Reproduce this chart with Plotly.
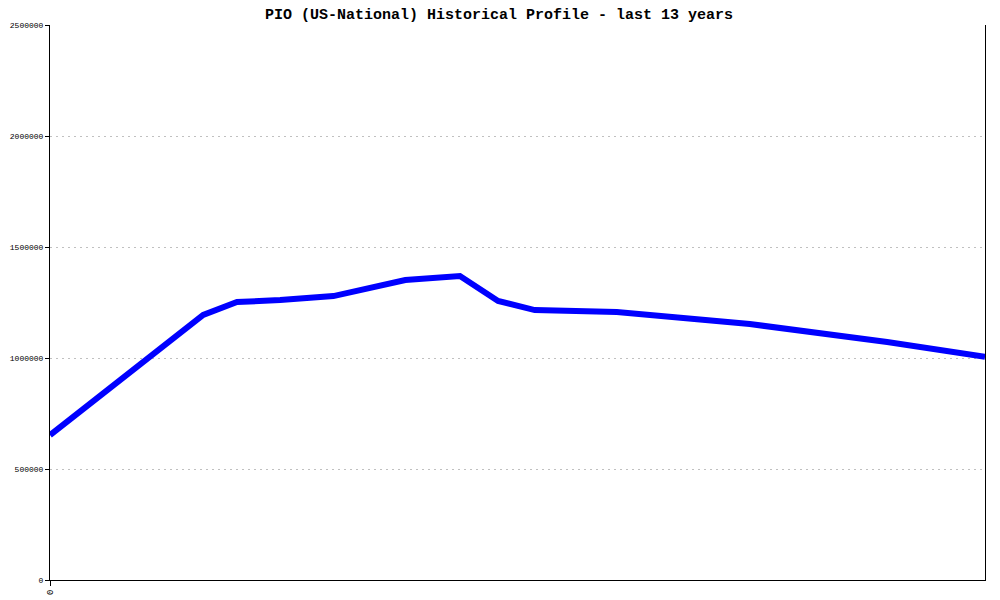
import plotly.graph_objects as go

# Time position in years from the start of the 13-year window
years = [0.0, 2.13, 2.6, 3.2, 3.94, 4.94, 5.7, 6.23, 6.74, 7.54, 7.88, 9.73, 11.64, 13.0]
# Population values
population = [653000, 1194000, 1252000, 1261000, 1279000, 1351000, 1369000,
              1257000, 1216000, 1212000, 1207000, 1153000, 1072000, 1005000]

y_ticks = [0, 500000, 1000000, 1500000, 2000000, 2500000]
y_labels = [str(v) for v in y_ticks]

fig = go.Figure(go.Scatter(
    x=years,
    y=population,
    mode="lines",
    line=dict(color="#0000ff", width=6),
    hoverinfo="skip",
))

# page body adds an 8px offset, so margins are shifted to compensate
fig.update_layout(
    width=1000,
    height=600,
    paper_bgcolor="white",
    plot_bgcolor="white",
    showlegend=False,
    margin=dict(l=42, r=23, t=17, b=28),
    title=dict(
        text="<b>PIO (US-National) Historical Profile - last 13 years</b>",
        x=0.491, xanchor="center",
        y=1.0, yanchor="top",
        font=dict(family="Liberation Mono, Courier New, monospace", size=15, color="black"),
    ),
    font=dict(family="Liberation Mono, Courier New, monospace", size=8, color="black"),
)

fig.update_xaxes(
    range=[0, 13],
    tickvals=[0],
    ticktext=["0"],
    tickangle=-90,
    ticks="outside",
    ticklen=5,
    tickcolor="black",
    showgrid=False,
    zeroline=False,
    showline=True,
    linecolor="black",
    linewidth=1,
    automargin=False,
    tickfont=dict(size=9),
)

fig.update_yaxes(
    range=[0, 2500000],
    tickvals=y_ticks,
    ticktext=y_labels,
    ticks="outside",
    ticklen=4,
    tickcolor="black",
    showgrid=True,
    gridcolor="#c0c0c0",
    griddash="2px,4px",
    gridwidth=1,
    zeroline=False,
    showline=True,
    mirror=True,
    linecolor="black",
    linewidth=1,
    automargin=False,
    tickfont=dict(size=8),
)

fig.write_html("out.html")
